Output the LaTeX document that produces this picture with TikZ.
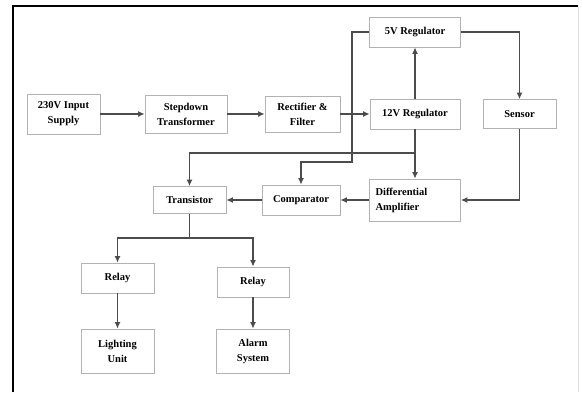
\documentclass[tikz,border=0pt]{standalone}
\usepackage{fontspec}
\setmainfont{Liberation Serif}
\usepackage{tikz}
\usetikzlibrary{arrows.meta}

\tikzset{
  block/.style={draw=gray!60, line width=0.8pt, fill=white, inner sep=2pt,
    font=\bfseries\fontsize{10.5}{15}\selectfont, align=center},
  link/.style={draw=black!70, line width=1.2pt, -{Latex[length=6.5pt,width=6pt]}},
  wire/.style={draw=black!70, line width=1.2pt}
}

\begin{document}
\begin{tikzpicture}[x=1pt,y=1pt]
                \useasboundingbox (0,0) rectangle (582,392);
                \fill[white] (0,0) rectangle (582,392);
                \draw[line width=1.6pt] (13,0) |- (578,386);
                \draw[gray!25, line width=0.6pt] (578,386) -- (578,0);

                \node[block, minimum width=73, minimum height=40] (input) at (63.5,278) {230V Input\\Supply};
                \node[block, minimum width=82, minimum height=38] (stepdown) at (186,278) {Stepdown\\Transformer};
                \node[block, minimum width=75, minimum height=36] (rectifier) at (302.5,278) {Rectifier \&\\Filter};
                \node[block, minimum width=90, minimum height=30] (twelve) at (415,278) {12V Regulator};
                \node[block, minimum width=73, minimum height=29] (sensor) at (519.5,278) {Sensor};
                \node[block, minimum width=91, minimum height=30] (five) at (415,360) {5V Regulator};

                \node[block, minimum width=91, minimum height=42, text width=79, align=left] (diffamp) at (415,192) {Differential\\Amplifier};
                \node[block, minimum width=78, minimum height=30] (comparator) at (301,192) {Comparator};
                \node[block, minimum width=73, minimum height=27] (transistor) at (189.5,192) {Transistor};

                \node[block, minimum width=73, minimum height=30] (relayA) at (117.5,114) {Relay};
                \node[block, minimum width=72, minimum height=30] (relayB) at (253,110) {Relay};
                \node[block, minimum width=73, minimum height=44] (lighting) at (117.5,41) {Lighting\\Unit};
                \node[block, minimum width=73, minimum height=44] (alarm) at (253,41) {Alarm\\System};

                \coordinate (split) at (415,239);
                \coordinate (bend) at (352,230);
                \coordinate (fork) at (189.5,154);

                % power chain
                \draw[link] (input) -- (stepdown);
                \draw[link] (stepdown) -- (rectifier);
                \draw[link] (rectifier) -- (twelve);
                \draw[link] (twelve) -- (five);
                \draw[link] (five.east) -| (sensor.north);
                \draw[link] (sensor.south) |- (diffamp.east);
                \draw[link] (twelve.south) -- (diffamp.north);
                \draw[link] (split) -| (transistor.north);
                \draw[link] (five.west) -| (bend) -| (comparator.north);
                \draw[link] (diffamp) -- (comparator);
                \draw[link] (comparator) -- (transistor);

                % outputs
                \draw[wire] (transistor.south) -- (fork);
                \draw[link] (fork) -| (relayA.north);
                \draw[link] (fork) -| (relayB.north);
                \draw[link] (relayA) -- (lighting);
                \draw[link] (relayB) -- (alarm);
            \end{tikzpicture}
\end{document}
